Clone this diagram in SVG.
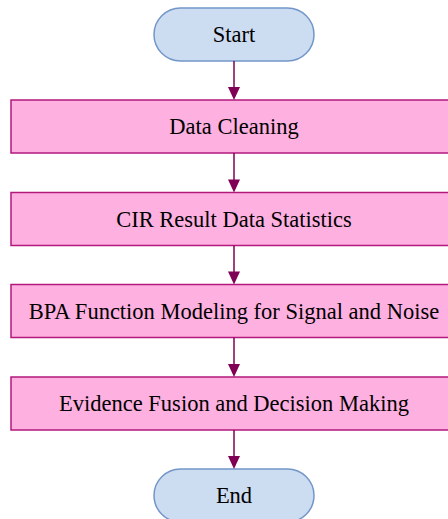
<svg xmlns="http://www.w3.org/2000/svg" width="448" height="519" viewBox="0 0 448 519">
<style>
.term{fill:#CCDCF1;stroke:#7396C9;stroke-width:1.5}
.proc{fill:#FEB0E0;stroke:#B3187D;stroke-width:1.5}
.lbl{font-size:22.5px;fill:#000;text-anchor:middle}
.conn{stroke:#800055;stroke-width:1.5;fill:none}
.head{fill:#800055}
</style>
<rect width="448" height="519" fill="#fff"/>
<g font-family="'Liberation Serif', 'Times New Roman', serif">
<g id="start"><rect class="term" x="154" y="8" width="160" height="53" rx="26.5"/><text class="lbl" x="234" y="42">Start</text></g>
<g id="cleaning"><rect class="proc" x="11" y="100" width="446" height="53"/><text class="lbl" x="234" y="134">Data Cleaning</text></g>
<g id="cir"><rect class="proc" x="11" y="192.5" width="446" height="53"/><text class="lbl" x="234" y="226.5">CIR Result Data Statistics</text></g>
<g id="bpa"><rect class="proc" x="11" y="284.5" width="446" height="53"/><text class="lbl" x="234" y="318.5">BPA Function Modeling for Signal and Noise</text></g>
<g id="fusion"><rect class="proc" x="11" y="377" width="446" height="53"/><text class="lbl" x="234" y="411">Evidence Fusion and Decision Making</text></g>
<g id="end"><rect class="term" x="154" y="469" width="160" height="53" rx="26.5"/><text class="lbl" x="234" y="503">End</text></g>
</g>
<g id="connectors">
<line class="conn" x1="234" y1="61" x2="234" y2="88"/><polygon class="head" points="228,87 240,87 234,100"/>
<line class="conn" x1="234" y1="153" x2="234" y2="180"/><polygon class="head" points="228,179.5 240,179.5 234,192.5"/>
<line class="conn" x1="234" y1="245.5" x2="234" y2="272"/><polygon class="head" points="228,271.5 240,271.5 234,284.5"/>
<line class="conn" x1="234" y1="337.5" x2="234" y2="365"/><polygon class="head" points="228,364 240,364 234,377"/>
<line class="conn" x1="234" y1="430" x2="234" y2="457"/><polygon class="head" points="228,456 240,456 234,469"/>
</g>
</svg>
